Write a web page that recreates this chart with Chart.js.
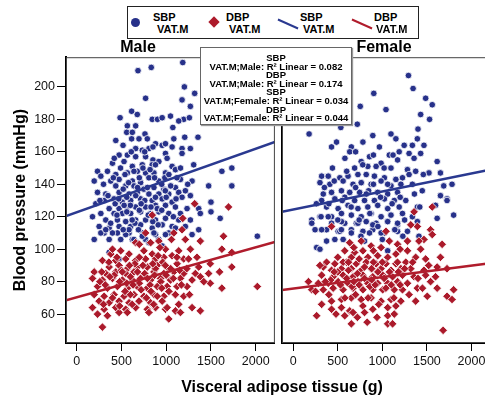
<!DOCTYPE html>
<html>
<head>
<meta charset="utf-8">
<script src="https://cdn.jsdelivr.net/npm/chart.js@4.4.1/dist/chart.umd.min.js"></script>
<style>
  html,body{margin:0;padding:0;background:#fff;overflow:hidden;}
  #wrap{position:relative;width:485px;height:396px;overflow:hidden;background:#fff;font-family:"Liberation Sans",Arial,sans-serif;color:#000;}
  canvas{position:absolute;top:0;}
  #legend{position:absolute;left:127px;top:6px;width:290px;height:31px;border:1px solid #222;background:#fff;}
  .lt{position:absolute;font-weight:bold;font-size:11px;line-height:12px;white-space:nowrap;}
  #r2{position:absolute;left:200px;top:47px;width:152px;height:78px;border:1px solid #666;background:#fff;box-shadow:1px 1px 1px #999;text-align:center;font-weight:bold;font-size:9.5px;line-height:8.6px;padding-top:6px;box-sizing:border-box;white-space:nowrap;}
  #xt{position:absolute;left:82px;width:400px;top:378px;text-align:center;font-weight:bold;font-size:16px;}
</style>
</head>
<body>
<div id="wrap">
  <canvas id="cm" width="280" height="396" style="left:0px"></canvas>
  <canvas id="cf" width="219" height="396" style="left:276px"></canvas>
  <div id="legend">
    <div style="position:absolute;left:3px;top:11px;width:9px;height:9px;border-radius:50%;background:#27318a;"></div>
    <div class="lt" style="left:25px;top:4px;">SBP</div>
    <div class="lt" style="left:29px;top:16px;">VAT.M</div>
    <div style="position:absolute;left:82px;top:11px;width:8px;height:8px;background:#ad1a2b;transform:rotate(45deg);"></div>
    <div class="lt" style="left:98px;top:4px;">DBP</div>
    <div class="lt" style="left:101px;top:16px;">VAT.M</div>
    <div style="position:absolute;left:149px;top:16px;width:22px;height:2px;background:#2a3990;transform:rotate(24deg);"></div>
    <div class="lt" style="left:172px;top:4px;">SBP</div>
    <div class="lt" style="left:175px;top:16px;">VAT.M</div>
    <div style="position:absolute;left:223px;top:16px;width:22px;height:2px;background:#b01c2c;transform:rotate(24deg);"></div>
    <div class="lt" style="left:246px;top:4px;">DBP</div>
    <div class="lt" style="left:248px;top:16px;">VAT.M</div>
  </div>
  <div id="r2">SBP<br>VAT.M;Male: R² Linear = 0.082<br>DBP<br>VAT.M;Male: R² Linear = 0.174<br>SBP<br>VAT.M;Female: R² Linear = 0.034<br>DBP<br>VAT.M;Female: R² Linear = 0.044</div>
  <div id="xt">Visceral adipose tissue (g)</div>
</div>
<script>
// ---- data (VAT in g, blood pressure in mmHg) ----
const yTicks = [60, 80, 100, 120, 140, 160, 180, 200];
const xTicks = [0, 500, 1000, 1500, 2000];
const panelTitles = ['Male', 'Female'];
const seriesNames = ['SBP VAT.M', 'DBP VAT.M'];

const maleSBP = [[1185,215],[685,210],[833,212],[1203,200],[1318,196],[1177,192],[770,193],[1270,188],[614,185],[677,183],[485,181],[844,180],[903,180],[955,181],[1048,182],[1196,180],[1140,179],[1259,181],[1074,175],[566,176],[659,176],[559,172],[622,172],[763,171],[437,167],[614,168],[696,168],[789,168],[881,165],[955,164],[992,165],[1085,168],[1207,169],[1355,169],[518,164],[659,162],[807,162],[733,161],[852,163],[1066,163],[1177,162],[1270,162],[474,158],[566,158],[659,157],[770,157],[852,155],[992,159],[1177,159],[529,154],[400,153],[622,151],[733,152],[844,152],[918,154],[1066,151],[1307,152],[233,148],[344,148],[270,145],[437,146],[566,147],[677,148],[770,147],[863,147],[992,147],[1103,149],[1622,148],[1733,150],[196,142],[381,142],[474,143],[622,142],[714,141],[807,144],[918,142],[985,144],[1159,143],[1289,142],[233,135],[437,139],[548,139],[640,139],[751,137],[863,138],[974,137],[1103,138],[1214,136],[1474,139],[1733,139],[325,134],[474,135],[585,134],[677,135],[807,134],[918,134],[1029,134],[1140,135],[1270,133],[214,128],[307,130],[418,131],[511,129],[603,130],[714,131],[844,130],[955,131],[1066,129],[1177,132],[1500,129],[363,125],[474,125],[566,126],[659,126],[770,126],[881,127],[992,127],[1103,126],[1233,125],[1363,125],[177,120],[270,122],[418,122],[511,122],[603,122],[714,123],[826,122],[918,123],[1029,122],[1159,122],[1381,122],[1500,123],[1603,119],[325,118],[455,118],[548,117],[659,118],[770,118],[881,118],[992,119],[1140,118],[1270,118],[251,114],[363,113],[474,114],[603,114],[714,115],[844,113],[955,115],[1066,114],[1214,114],[1363,112],[307,110],[455,110],[585,110],[733,110],[881,109],[1029,110],[196,106],[363,106],[492,106],[622,106],[770,106],[918,106],[2018,108],[270,110],[400,110],[548,109],[640,106],[733,108],[863,110],[992,109],[1103,113],[1289,109],[955,102],[363,98],[474,94],[677,104],[807,104],[325,112],[585,112],[520,137],[600,127],[700,144],[800,121],[880,132],[950,140],[560,123],[650,116],[430,128],[760,130],[820,149],[900,125],[1000,132],[1050,139],[680,138],[540,146],[470,131],[1120,144],[300,140],[350,133],[410,144],[450,121],[490,150],[530,127],[580,141],[620,118],[660,133],[700,124],[740,150],[790,138],[830,126],[870,144],[910,115],[950,124],[990,136],[1030,146],[1080,120],[1110,131],[380,116],[520,112],[690,112],[850,117],[260,130],[420,156],[610,160],[880,152],[1010,156],[1160,150],[1240,140],[1320,128],[760,160],[560,132],[640,148],[720,128]];

const maleDBP = [[1318,128],[1696,126],[844,121],[1185,119],[770,110],[1085,110],[1177,112],[1640,108],[1381,105],[1214,106],[659,104],[826,104],[918,105],[1059,106],[1622,100],[381,97],[492,99],[585,97],[751,99],[844,97],[992,100],[1140,99],[1270,100],[288,93],[437,93],[548,94],[659,93],[770,94],[881,94],[974,95],[1066,96],[1196,94],[1344,95],[1733,98],[363,89],[474,90],[566,88],[677,89],[789,89],[900,90],[1011,89],[1122,91],[1363,89],[1492,91],[1733,89],[196,86],[325,85],[437,86],[548,85],[640,86],[751,84],[863,86],[974,85],[1085,86],[1196,85],[1326,85],[1474,85],[1596,86],[177,82],[288,81],[400,82],[511,81],[622,81],[714,82],[826,81],[937,82],[1048,81],[1159,82],[1289,81],[1381,83],[233,77],[344,76],[455,77],[566,76],[677,77],[789,76],[900,77],[1011,77],[1122,77],[1233,77],[1492,79],[1622,76],[2018,77],[196,72],[307,71],[418,72],[529,71],[640,72],[751,71],[863,72],[974,71],[1103,72],[1196,71],[251,68],[363,67],[474,68],[585,67],[696,68],[826,67],[955,68],[1140,66],[177,64],[307,63],[437,64],[548,63],[659,64],[789,63],[881,64],[992,63],[1289,64],[233,60],[344,59],[474,61],[566,61],[807,61],[1103,62],[1159,61],[1381,62],[1029,57],[288,52],[420,84],[500,87],[600,83],[700,79],[760,85],[820,78],[880,88],[940,80],[1000,84],[560,79],[650,91],[720,75],[480,80],[370,83],[900,71],[1050,88],[1150,87],[280,86],[600,72],[780,70],[960,92],[850,91],[260,80],[320,78],[360,92],[400,70],[450,95],[510,86],[540,74],[590,90],[630,78],[680,86],[700,95],[740,90],[790,82],[830,74],[870,84],[910,96],[950,76],[990,90],[1030,74],[1080,82],[1120,95],[1170,78],[1230,88],[1260,72],[300,66],[480,65],[620,66],[860,66],[1010,64],[400,100],[700,103],[930,101],[1250,94],[1420,80]];

const femaleSBP = [[1293,207],[1345,199],[904,196],[1486,193],[1560,189],[752,188],[1041,186],[1430,183],[1530,180],[719,177],[534,175],[1400,174],[178,171],[893,170],[1097,171],[1152,168],[430,163],[486,166],[652,163],[634,160],[782,166],[967,163],[1189,160],[1245,164],[1337,164],[1393,168],[1467,164],[1300,159],[1430,159],[1078,158],[856,157],[763,154],[986,153],[1171,155],[1356,156],[1615,154],[689,150],[837,151],[930,151],[1097,150],[1282,149],[1374,148],[1523,147],[1652,147],[319,145],[393,145],[523,144],[615,145],[726,146],[819,146],[911,145],[1023,144],[1152,143],[1226,144],[300,141],[411,140],[560,142],[671,140],[763,141],[874,140],[986,142],[1097,139],[1208,140],[1337,140],[1689,139],[1782,140],[337,134],[430,135],[541,136],[634,135],[745,135],[846,136],[948,135],[1060,134],[1171,135],[1448,136],[319,130],[467,131],[578,132],[689,130],[800,130],[911,130],[1023,131],[1134,130],[1263,130],[1652,133],[1726,131],[374,126],[504,125],[615,127],[726,125],[837,126],[948,127],[1060,125],[1189,126],[1597,127],[300,120],[430,120],[541,122],[652,121],[763,120],[874,122],[986,120],[1097,121],[1226,122],[1337,120],[208,118],[430,116],[578,116],[708,116],[819,117],[930,116],[1060,117],[1171,115],[1393,117],[1800,121],[245,112],[374,112],[504,111],[652,112],[782,111],[893,112],[1023,110],[1171,111],[1282,111],[208,116],[312,120],[393,120],[541,117],[726,116],[893,115],[1060,117],[1171,116],[319,112],[523,111],[652,110],[856,110],[986,110],[1411,108],[467,106],[560,106],[374,105],[263,101],[300,100],[800,105],[1060,99],[1615,119],[1726,130],[1393,126],[350,138],[400,128],[460,142],[500,118],[550,130],[600,148],[650,126],[700,138],[740,118],[780,152],[820,134],[860,122],[900,140],[950,114],[980,132],[1020,150],[1060,140],[1110,128],[1140,112],[1200,132],[1250,118],[1300,146],[1360,134],[440,150],[580,156],[700,160],[900,158],[1120,158],[540,112],[760,108],[1000,106],[1230,108],[1420,126],[1460,146],[260,128]];

const femaleDBP = [[1560,126],[1356,123],[430,114],[1393,114],[1541,112],[1041,111],[1319,115],[1467,106],[1560,109],[634,104],[763,105],[1078,105],[1171,103],[1282,105],[1411,105],[1671,103],[874,102],[986,101],[1430,100],[1282,99],[578,99],[689,98],[782,99],[1152,97],[1652,95],[652,95],[837,95],[948,96],[1060,95],[1374,95],[1486,94],[374,92],[467,91],[597,92],[708,91],[819,92],[930,91],[1041,91],[1152,91],[1263,92],[337,89],[430,87],[541,88],[652,88],[763,87],[874,88],[986,88],[1097,87],[1208,88],[1319,88],[1467,87],[1615,89],[1726,88],[319,84],[448,83],[560,84],[671,83],[782,84],[893,83],[1004,84],[1115,83],[1226,84],[1356,83],[1486,84],[1597,83],[171,80],[282,79],[393,79],[504,80],[615,79],[726,80],[837,79],[948,79],[1060,79],[1171,80],[1282,79],[1541,80],[208,75],[337,75],[448,76],[560,75],[671,76],[782,75],[893,75],[1004,75],[1134,75],[1226,75],[1393,76],[1615,76],[1800,75],[1726,71],[1782,69],[319,66],[430,68],[541,69],[652,70],[763,69],[874,70],[986,68],[1097,69],[1208,68],[1374,68],[1504,71],[430,63],[541,64],[634,62],[782,65],[893,63],[1060,64],[1152,65],[263,59],[578,59],[671,61],[800,61],[1060,59],[1134,60],[652,54],[830,55],[1060,54],[1115,54],[1682,50],[500,86],[600,82],[720,85],[800,89],[880,81],[950,86],[1020,82],[660,77],[740,78],[860,77],[560,92],[420,81],[1180,86],[1100,78],[900,92],[620,87],[300,90],[360,80],[400,72],[460,86],[500,95],[530,78],[580,70],[620,92],[680,80],[700,72],[740,94],[800,82],[840,70],[880,88],[920,78],[960,66],[1000,92],[1040,76],[1080,86],[1130,70],[1170,92],[1200,78],[1250,88],[1300,72],[1340,92],[1400,82],[1450,76],[1520,90],[680,101],[900,99],[1200,100],[480,60],[720,58],[940,58],[250,74]];

// fitted linear lines (endpoints read at the panel edges)
const maleFitSBP = [[-119,120.4],[2214,166.1]];
const maleFitDBP = [[-119,68.5],[2214,104.5]];
const femaleFitSBP = [[-126,123.0],[2207,149.0]];
const femaleFitDBP = [[-126,74.8],[2207,91.3]];

const xRangeMale = [-119, 2214];
const xRangeFemale = [-126, 2207];
const yRange = [42.2, 218.3];

// ---- styling ----
const SBP_COL = '#27318a', DBP_COL = '#ab1a2b';
const SBP_LINE = '#2a3990', DBP_LINE = '#b01c2c';
const FONT = '"Liberation Sans", Arial, sans-serif';

const toXY = a => a.map(p => ({x: p[0], y: p[1]}));

const framePlugin = {
  id: 'frame',
  afterDatasetsDraw(chart) {
    const a = chart.chartArea, c = chart.ctx;
    c.save();
    c.strokeStyle = '#444';
    c.lineWidth = 1;
    c.strokeRect(a.left + 0.5, a.top + 0.5, a.right - a.left - 1, a.bottom - a.top - 1);
    c.restore();
  }
};

function makePanel(id, title, sbp, dbp, fitS, fitD, xr, showY, padRight) {
  return new Chart(document.getElementById(id), {
    type: 'scatter',
    data: {
      datasets: [
        {type: 'line', label: 'SBP fit', data: toXY(fitS), borderColor: SBP_LINE, borderWidth: 2.5, pointRadius: 0, showLine: true, fill: false},
        {type: 'line', label: 'DBP fit', data: toXY(fitD), borderColor: DBP_LINE, borderWidth: 2.5, pointRadius: 0, showLine: true, fill: false},
        {label: seriesNames[1], data: toXY(dbp), pointStyle: 'rectRot', pointRadius: 4.3, backgroundColor: DBP_COL, borderColor: '#ffffff', borderWidth: 0.8},
        {label: seriesNames[0], data: toXY(sbp), pointStyle: 'circle', pointRadius: 3.3, backgroundColor: SBP_COL, borderColor: '#ffffff', borderWidth: 0.8}
      ]
    },
    options: {
      responsive: false,
      animation: false,
      devicePixelRatio: 1,
      layout: {padding: {top: 38, left: 0, right: padRight, bottom: 23}},
      plugins: {
        legend: {display: false},
        tooltip: {enabled: false},
        title: {display: true, text: title, color: '#000', font: {family: FONT, size: 16, weight: 'bold'}, padding: {top: 0, bottom: 0}}
      },
      scales: {
        x: {
          type: 'linear', min: xr[0], max: xr[1],
          afterBuildTicks: s => { s.ticks = xTicks.map(v => ({value: v})); },
          afterFit: s => { s.height = 30; },
          grid: {drawOnChartArea: false, drawTicks: true, tickLength: 8, color: '#000', tickWidth: 1},
          border: {display: true, color: '#000', width: 2},
          ticks: {color: '#111', padding: 3, font: {family: FONT, size: 12.5}, maxRotation: 0, autoSkip: false, callback: v => String(v)}
        },
        y: {
          type: 'linear', min: yRange[0], max: yRange[1],
          afterBuildTicks: s => { s.ticks = yTicks.map(v => ({value: v})); },
          afterFit: s => { s.width = showY ? 66 : 6; },
          grid: {drawOnChartArea: false, drawTicks: showY, tickLength: 9, color: '#000', tickWidth: 1},
          border: {display: true, color: '#000', width: 2},
          ticks: {display: showY, color: '#111', padding: 2, font: {family: FONT, size: 12.5}, callback: v => String(v)},
          title: {display: showY, text: 'Blood pressure (mmHg)', color: '#000', font: {family: FONT, size: 16, weight: 'bold'}, padding: {top: 11, bottom: 0}}
        }
      }
    },
    plugins: [framePlugin]
  });
}

makePanel('cm', panelTitles[0], maleSBP, maleDBP, maleFitSBP, maleFitDBP, xRangeMale, true, 4);
makePanel('cf', panelTitles[1], femaleSBP, femaleDBP, femaleFitSBP, femaleFitDBP, xRangeFemale, false, 3);
</script>
</body>
</html>
